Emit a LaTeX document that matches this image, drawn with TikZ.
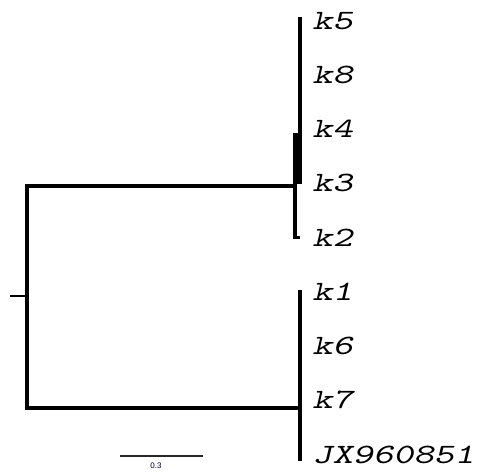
\documentclass[tikz,border=0pt]{standalone}
\usepackage{fontspec}
\newfontfamily\barfont{Liberation Sans}
\begin{document}
\begin{tikzpicture}[x=1pt,y=-1pt,
  branch/.style={line width=4pt},
  leaf/.style={anchor=base west,inner sep=0pt,xscale=1.38,font=\ttfamily\slshape\fontsize{28}{28}\selectfont},
  scalebar/.style={line width=2pt,draw=black!85}]
\useasboundingbox (0,0) rectangle (481,472);
% leaf labels
\node[leaf] (k5) at (312,29) {k5};
\node[leaf] (k8) at (312,83.25) {k8};
\node[leaf] (k4) at (312,137.5) {k4};
\node[leaf] (k3) at (312,191.75) {k3};
\node[leaf] (k2) at (312,246) {k2};
\node[leaf] (k1) at (312,300.25) {k1};
\node[leaf] (k6) at (312,354.5) {k6};
\node[leaf] (k7) at (312,408.75) {k7};
\node[leaf] (jx) at (312,463) {JX960851};
% internal coordinates
\coordinate (root) at (27,296);
\coordinate (stub) at (10,296);
\coordinate (up) at (27,186);
\coordinate (lo) at (27,408);
\coordinate (upn) at (296,186);
\coordinate (lon) at (300,408);
% root
\draw[branch,line width=2.5pt] (stub) -- (root);
\draw[branch,line cap=rect] (up) -- (lo);
\draw[branch] (up) -- (upn);
\draw[branch] (lo) -- (lon);
% upper clade
\fill (293,133) rectangle (302,184);
\draw[branch] (299.5,17) -- (299.5,184);
\draw[branch] (295,184) -- (295,237);
\draw[line width=3pt] (293,237) -- (300,237);
% lower clade
\draw[branch] (300,290) -- (300,461);
% scale bar
\coordinate (sb1) at (120,456);
\coordinate (sb2) at (203,456);
\draw[scalebar] (sb1) -- (sb2);
\node[font=\barfont\fontsize{8}{8}\selectfont,text=black!80!blue,inner sep=0pt] (sbl) at (156,466) {0.3};
\end{tikzpicture}
\end{document}
